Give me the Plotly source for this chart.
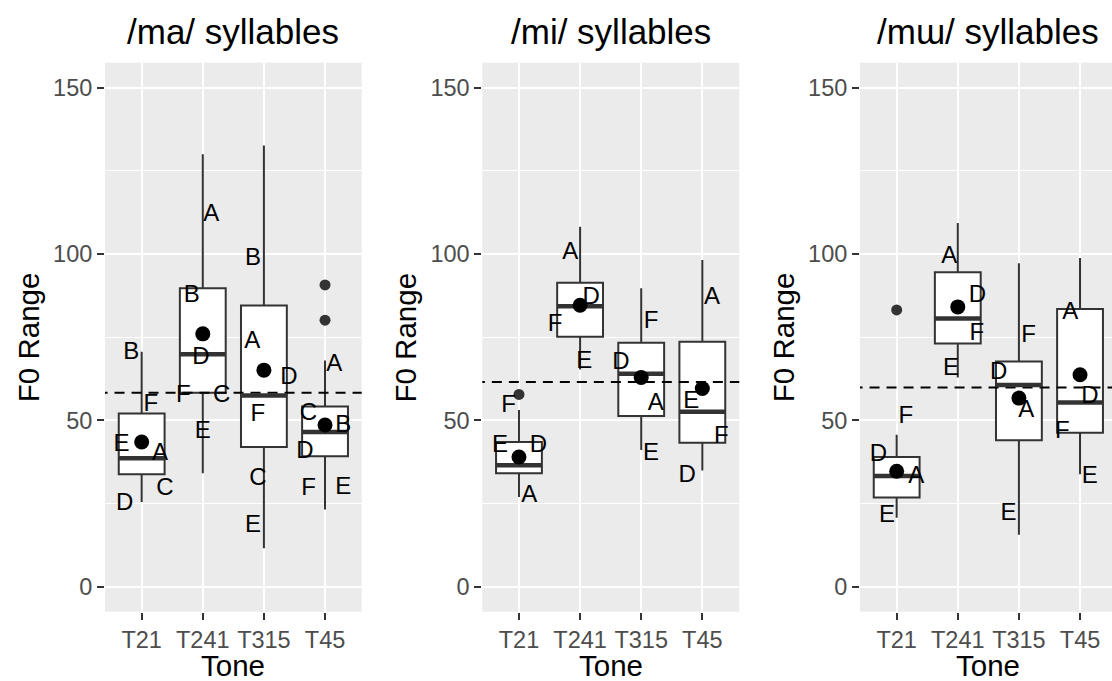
import plotly.graph_objects as go

# Tone categories on the x axis of every panel
tones = ["T21", "T241", "T315", "T45"]
panel_titles = ["/ma/ syllables", "/mi/ syllables", "/mɯ/ syllables"]

# ---- /ma/ syllables: box statistics of F0 range per tone ----
ma_q1 = [33.8, 58.3, 42.0, 39.2]
ma_median = [38.6, 69.9, 57.5, 46.5]
ma_q3 = [52.1, 89.7, 84.5, 54.2]
ma_lower = [25.5, 34.1, 11.6, 23.2]
ma_upper = [70.6, 130.0, 132.6, 68.0]
ma_mean = [43.5, 76.0, 65.1, 48.6]
ma_out_tone = ["T45", "T45"]
ma_out_value = [90.7, 80.1]
ma_grand_mean = 58.3
# speaker means (letter labels) with their horizontal jitter
ma_spk_tone = ["T21"] * 6 + ["T241"] * 6 + ["T315"] * 6 + ["T45"] * 6
ma_spk = ["B", "F", "E", "A", "C", "D",
          "A", "B", "D", "F", "C", "E",
          "B", "A", "D", "F", "C", "E",
          "A", "C", "B", "D", "F", "E"]
ma_spk_value = [70.1, 54.5, 42.7, 40.0, 29.3, 25.0,
                111.8, 87.3, 68.7, 57.2, 57.2, 46.5,
                98.5, 73.6, 62.8, 51.6, 32.3, 18.4,
                66.7, 51.9, 48.4, 40.6, 29.3, 29.8]
ma_spk_jitter = [-0.17, 0.15, -0.33, 0.30, 0.38, -0.28,
                 0.14, -0.18, -0.03, -0.32, 0.31, 0.0,
                 -0.18, -0.19, 0.41, -0.10, -0.10, -0.18,
                 0.15, -0.27, 0.30, -0.33, -0.27, 0.30]

# ---- /mi/ syllables ----
mi_q1 = [34.1, 75.1, 51.3, 43.3]
mi_median = [36.5, 84.3, 64.0, 52.6]
mi_q3 = [43.5, 91.4, 73.3, 73.6]
mi_lower = [27.0, 65.3, 41.1, 34.9]
mi_upper = [53.1, 108.2, 89.7, 98.2]
mi_mean = [39.0, 84.6, 62.9, 59.6]
mi_out_tone = ["T21"]
mi_out_value = [57.8]
mi_grand_mean = 61.5
mi_spk_tone = ["T21"] * 4 + ["T241"] * 4 + ["T315"] * 4 + ["T45"] * 4
mi_spk = ["F", "E", "D", "A",
          "A", "D", "F", "E",
          "F", "D", "A", "E",
          "A", "E", "F", "D"]
mi_spk_value = [54.2, 42.4, 42.2, 27.2,
                100.2, 86.7, 78.7, 67.6,
                79.5, 67.1, 54.9, 40.0,
                86.7, 55.4, 44.9, 33.4]
mi_spk_jitter = [-0.17, -0.31, 0.32, 0.17,
                 -0.16, 0.18, -0.41, 0.07,
                 0.16, -0.33, 0.24, 0.16,
                 0.16, -0.18, 0.31, -0.25]

# ---- /mɯ/ syllables ----
mw_q1 = [26.8, 73.1, 44.0, 46.3]
mw_median = [33.3, 80.6, 60.6, 55.4]
mw_q3 = [39.0, 94.5, 67.7, 83.5]
mw_lower = [20.7, 62.9, 15.6, 33.8]
mw_upper = [45.7, 109.3, 97.2, 98.8]
mw_mean = [34.7, 84.1, 56.7, 63.7]
mw_out_tone = ["T21"]
mw_out_value = [83.2]
mw_grand_mean = 59.9
mw_spk_tone = ["T21"] * 4 + ["T241"] * 4 + ["T315"] * 4 + ["T45"] * 4
mw_spk = ["F", "D", "A", "E",
          "A", "D", "F", "E",
          "F", "D", "A", "E",
          "A", "D", "F", "E"]
mw_spk_value = [51.0, 39.5, 33.1, 21.3,
                99.1, 87.3, 76.0, 65.3,
                75.5, 64.2, 52.7, 21.8,
                82.4, 57.0, 46.5, 33.1]
mw_spk_jitter = [0.15, -0.30, 0.32, -0.16,
                 -0.14, 0.32, 0.31, -0.11,
                 0.16, -0.33, 0.12, -0.17,
                 -0.16, 0.16, -0.29, 0.16]

panels = [
    dict(q1=ma_q1, med=ma_median, q3=ma_q3, lo=ma_lower, hi=ma_upper, mean=ma_mean,
         out_t=ma_out_tone, out_v=ma_out_value, gm=ma_grand_mean,
         st=ma_spk_tone, s=ma_spk, sv=ma_spk_value, sj=ma_spk_jitter),
    dict(q1=mi_q1, med=mi_median, q3=mi_q3, lo=mi_lower, hi=mi_upper, mean=mi_mean,
         out_t=mi_out_tone, out_v=mi_out_value, gm=mi_grand_mean,
         st=mi_spk_tone, s=mi_spk, sv=mi_spk_value, sj=mi_spk_jitter),
    dict(q1=mw_q1, med=mw_median, q3=mw_q3, lo=mw_lower, hi=mw_upper, mean=mw_mean,
         out_t=mw_out_tone, out_v=mw_out_value, gm=mw_grand_mean,
         st=mw_spk_tone, s=mw_spk, sv=mw_spk_value, sj=mw_spk_jitter),
]

W, H = 1112, 681
FONT = "Liberation Sans, Arial, sans-serif"
BOX_W = 0.75
pos = {t: i + 1 for i, t in enumerate(tones)}

# panel geometry (pixels)
x_dom_px = [(105, 361.7), (482.3, 739.3), (860, 1112)]
y_top_px, y_bot_px = 62.7, 611.7
cat_px = (361.7 - 105) / 4.2

fig = go.Figure()

for k, p in enumerate(panels):
    xa = "x" if k == 0 else f"x{k + 1}"
    ya = "y" if k == 0 else f"y{k + 1}"
    xs = [pos[t] for t in tones]

    # reference line at the overall mean
    fig.add_trace(go.Scatter(
        x=[0, 6], y=[p["gm"], p["gm"]], mode="lines",
        line=dict(color="black", width=2, dash="10px,7px"),
        xaxis=xa, yaxis=ya, hoverinfo="skip", showlegend=False))

    # boxes from precomputed statistics
    fig.add_trace(go.Box(
        x=xs, q1=p["q1"], median=p["med"], q3=p["q3"],
        lowerfence=p["lo"], upperfence=p["hi"],
        boxpoints=False, width=BOX_W, whiskerwidth=0,
        fillcolor="white", line=dict(color="#333333", width=2),
        xaxis=xa, yaxis=ya, showlegend=False))

    # thicker median bars
    mx, my = [], []
    for x, m in zip(xs, p["med"]):
        mx += [x - BOX_W / 2, x + BOX_W / 2, None]
        my += [m, m, None]
    fig.add_trace(go.Scatter(
        x=mx, y=my, mode="lines", line=dict(color="#333333", width=4.5),
        xaxis=xa, yaxis=ya, hoverinfo="skip", showlegend=False))

    # outliers
    fig.add_trace(go.Scatter(
        x=[pos[t] for t in p["out_t"]], y=p["out_v"], mode="markers",
        marker=dict(color="#333333", size=11),
        xaxis=xa, yaxis=ya, showlegend=False))

    # tone means
    fig.add_trace(go.Scatter(
        x=xs, y=p["mean"], mode="markers",
        marker=dict(color="black", size=15),
        xaxis=xa, yaxis=ya, showlegend=False))

    # speaker labels
    fig.add_trace(go.Scatter(
        x=[pos[t] + j for t, j in zip(p["st"], p["sj"])], y=p["sv"],
        mode="text", text=p["s"], textposition="middle center",
        textfont=dict(family=FONT, size=24, color="black"),
        xaxis=xa, yaxis=ya, showlegend=False, cliponaxis=False))

    x0, x1 = x_dom_px[k]
    xr_end = 0.4 + (x1 - x0) / cat_px
    axis_x = dict(
        domain=[x0 / W, x1 / W], range=[0.4, xr_end],
        tickmode="array", tickvals=xs, ticktext=tones,
        showgrid=True, gridcolor="white", gridwidth=2,
        zeroline=False, showline=False,
        ticks="outside", ticklen=7, tickwidth=2, tickcolor="#333333",
        tickfont=dict(family=FONT, size=23.5, color="#4D4D4D"),
        anchor=ya, fixedrange=True)
    axis_y = dict(
        domain=[1 - y_bot_px / H, 1 - y_top_px / H], range=[-7.5, 157.5],
        tickmode="array", tickvals=[0, 50, 100, 150],
        showgrid=True, gridcolor="white", gridwidth=2,
        minor=dict(tickvals=[25, 75, 125], showgrid=True, gridcolor="white",
                   gridwidth=1, ticks=""),
        zeroline=False, showline=False,
        ticks="outside", ticklen=7, tickwidth=2, tickcolor="#333333",
        tickfont=dict(family=FONT, size=23.5, color="#4D4D4D"),
        anchor=xa, fixedrange=True)
    fig.layout[("xaxis" if k == 0 else f"xaxis{k + 1}")] = axis_x
    fig.layout[("yaxis" if k == 0 else f"yaxis{k + 1}")] = axis_y

    xc = (x0 + (x_dom_px[k][0] + cat_px * 4.2)) / 2 / W
    # panel title
    fig.add_annotation(text=panel_titles[k], xref="paper", yref="paper",
                       x=xc, y=1 - 31 / H, xanchor="center", yanchor="middle",
                       showarrow=False, font=dict(family=FONT, size=35, color="black"))
    # axis titles
    fig.add_annotation(text="Tone", xref="paper", yref="paper",
                       x=xc, y=1 - 665 / H, xanchor="center", yanchor="middle",
                       showarrow=False, font=dict(family=FONT, size=29.5, color="black"))
    fig.add_annotation(text="F0 Range", xref="paper", yref="paper",
                       x=(x0 - 77) / W, y=1 - (y_top_px + y_bot_px) / 2 / H,
                       xanchor="center", yanchor="middle", textangle=-90,
                       showarrow=False, font=dict(family=FONT, size=29.5, color="black"))

fig.update_layout(
    width=W, height=H, margin=dict(l=0, r=0, t=0, b=0),
    paper_bgcolor="white", plot_bgcolor="#EBEBEB",
    boxmode="overlay", showlegend=False,
    font=dict(family=FONT),
)

fig.write_html("out.html", config={"displayModeBar": False})
